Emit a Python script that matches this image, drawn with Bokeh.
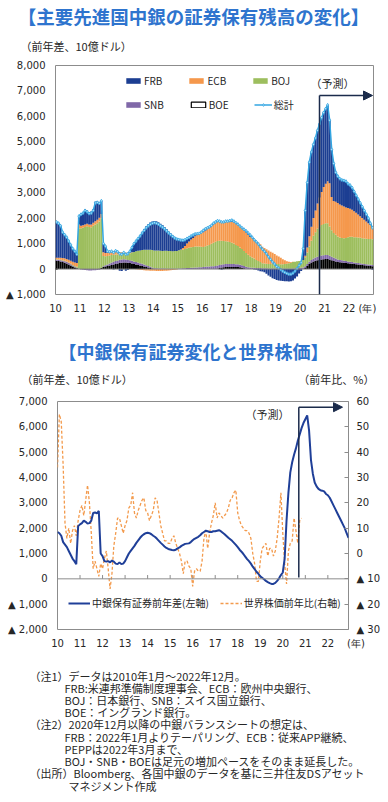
import numpy as np
from bokeh.plotting import figure
from bokeh.layouts import column
from bokeh.models import (Range1d, LinearAxis, FixedTicker, NumeralTickFormatter, Label,
                          Legend, LegendItem, Span, Arrow, NormalHead)
from bokeh.embed import file_html
from bokeh.resources import INLINE

FONT_JP = "Noto Sans CJK JP"
FONT_NUM = "DejaVu Sans"

START_YEAR = 2010
YEARS = list(range(2010, 2023))
YEAR_LABELS = ["10", "11", "12", "13", "14", "15", "16", "17", "18", "19", "20", "21", "22"]
YEAR_UNIT = "(年)"

# 前年差、10億ドル (monthly, 2010-01 .. 2022-12)
FRB = [1410, 1360, 1260, 1020, 930, 850, 730, 620, 510, 440, 340, 330,
       470, 510, 590, 520, 490, 510, 530, 770, 720, 590, 520, 340,
       270, 60, 30, 30, -20, 50, 20, -70, -80, -10, -70, -40,
       60, 190, 330, 410, 500, 600, 710, 810, 920, 1000, 1070, 1120,
       1160, 1150, 1110, 1060, 1020, 930, 850, 770, 690, 620, 540, 490,
       420, 370, 300, 240, 200, 160, 140, 120, 90, 50, 10, 20,
       70, 70, 50, 40, 30, 40, 20, 20, -10, -30, -10, 20,
       20, 40, 70, 40, 20, 0, 0, 0, 30, 60, 70, 80,
       20, -20, -30, -60, -90, -100, -130, -180, -250, -300, -360, -390,
       -430, -450, -460, -470, -480, -480, -490, -480, -450, -370, -290, -170,
       -80, 440, 1780, 2550, 2910, 2940, 2890, 2850, 2870, 2890, 2920, 2930,
       2950, 3000, 2480, 1870, 1480, 1150, 1050, 1010, 1000, 1020, 1030, 950,
       930, 870, 780, 690, 610, 520, 440, 360, 280, 200, 70, -30]
ECB = [50, 60, 70, 80, 90, 100, 110, 120, 130, 140, 150, 150,
       100, 100, 100, 100, 100, 110, 120, 130, 140, 150, 160, 150,
       130, 130, 120, 120, 110, 100, 90, 80, 70, 60, 50, 40,
       20, 10, 0, -10, -20, -30, -40, -50, -60, -60, -70, -70,
       -70, -80, -80, -80, -80, -70, -70, -60, -50, -40, -30, -20,
       0, 20, 60, 120, 180, 240, 300, 350, 400, 450, 500, 550,
       580, 610, 640, 670, 700, 730, 760, 780, 780, 770, 760, 770,
       780, 800, 820, 840, 850, 850, 840, 830, 820, 810, 790, 760,
       780, 760, 740, 720, 690, 650, 610, 570, 530, 480, 430, 380,
       330, 290, 250, 200, 150, 100, 60, 30, 10, 0, 0, 0,
       0, 0, 60, 200, 400, 550, 700, 850, 1000, 1150, 1300, 1450,
       1550, 1650, 1700, 1300, 1250, 1300, 1320, 1300, 1280, 1250, 1200, 1150,
       1100, 1060, 1020, 960, 900, 850, 800, 740, 680, 620, 550, 480]
BOJ = [20, 20, 20, 20, 20, 20, 20, 20, 20, 30, 40, 1580,
       1600, 1620, 1650, 1680, 1650, 1640, 1700, 1750, 1800, 1850, 1950, 400,
       350, 330, 310, 290, 270, 250, 230, 220, 210, 210, 220, 240,
       270, 320, 370, 420, 460, 500, 540, 580, 610, 640, 670, 690,
       700, 700, 710, 700, 690, 700, 710, 700, 700, 690, 700, 700,
       720, 730, 740, 760, 780, 800, 810, 820, 830, 830, 820, 810,
       790, 810, 830, 850, 880, 920, 950, 960, 950, 930, 910, 890,
       880, 860, 830, 800, 760, 720, 680, 640, 590, 540, 490, 440,
       400, 360, 320, 280, 240, 200, 190, 180, 180, 180, 190, 190,
       180, 180, 180, 180, 190, 200, 220, 240, 260, 270, 280, 280,
       280, 300, 350, 450, 600, 750, 900, 1000, 1100, 1150, 1200, 1230,
       1250, 1250, 1150, 1050, 980, 940, 900, 880, 870, 880, 900, 950,
       980, 990, 990, 1000, 1000, 1000, 1000, 1000, 1000, 1000, 1010, 1010]
SNB = [40, 40, 50, 50, 60, 60, 60, 50, 40, 30, 20, 10,
       -20, -30, -40, -50, -60, -60, -50, -50, -40, -30, 0, 30,
       50, 60, 80, 100, 110, 120, 120, 130, 130, 130, 120, 110,
       110, 110, 100, 100, 100, 90, 90, 80, 70, 60, 50, 40,
       30, 30, 20, 20, 20, 20, 10, 10, 10, 10, 10, 10,
       20, 20, 30, 30, 40, 40, 50, 50, 60, 60, 70, 70,
       80, 90, 100, 100, 110, 110, 120, 120, 120, 120, 120, 120,
       120, 120, 120, 120, 110, 110, 100, 100, 90, 80, 70, 60,
       50, 50, 40, 40, 40, 30, 30, 30, 20, 20, 20, 20,
       20, 20, 10, 10, 10, 10, 10, 10, 20, 20, 30, 40,
       50, 60, 70, 80, 90, 100, 110, 120, 130, 140, 150, 150,
       150, 150, 140, 130, 120, 110, 100, 90, 90, 80, 80, 70,
       70, 70, 60, 60, 60, 60, 50, 50, 50, 50, 50, 50]
BOE = [330, 320, 300, 280, 250, 220, 180, 140, 100, 60, 30, 10,
       0, 0, 0, 0, 0, 0, 0, 0, 0, 20, 50, 80,
       100, 120, 140, 160, 180, 200, 220, 240, 250, 260, 260, 250,
       240, 220, 200, 180, 160, 140, 120, 100, 80, 60, 40, 20,
       0, 0, 0, 0, 0, 0, 0, 0, 0, 0, 0, 0,
       0, 0, 0, 0, 0, 0, 0, 0, 0, 0, 0, 0,
       0, 0, 0, 0, 0, 0, 0, 20, 40, 60, 70, 80,
       80, 80, 80, 80, 80, 80, 70, 50, 30, 10, 0, 0,
       0, 0, 0, 0, 0, 0, 0, 0, 0, 0, 0, 0,
       0, 0, 0, 0, 0, 0, 0, 0, 0, 0, 0, 0,
       0, 0, 40, 120, 200, 260, 300, 330, 350, 370, 380, 390,
       400, 400, 380, 350, 320, 300, 280, 270, 260, 250, 240, 230,
       220, 210, 200, 190, 180, 170, 160, 150, 140, 130, 120, 110]
# 世界株価前年比 (%), monthly 2010-01 .. 2020-11
STOCK_YOY = [34, 55, 52, 35, 12, 6, 10, 4, 9, 11, 7, 13,
             17, 19, 15, 21, 27, 20, 8, -6, -3, -6, -9, -4,
             -6, -2, 1, -6, -14, -8, 3, 8, 14, 14, 11, 8,
             11, 13, 18, 19, 24, 16, 14, 17, 19, 21, 22, 17,
             16, 13, 15, 17, 22, 21, 16, 11, 8, 5, 5, 4,
             4, 6, 7, 4, 2, 0, -3, -8, -3, -3, -5, -6,
             -13, -7, -6, -7, -7, -3, 6, 9, 2, 8, 12, 15,
             20, 14, 16, 15, 14, 15, 16, 18, 21, 22, 24, 25,
             16, 13, 11, 10, 9, 9, 8, 6, 0, -4, -11, -11,
             -3, 2, 3, 4, -1, 2, 2, -1, 1, 6, 14, 24,
             8, -4, -12, 1, 4, 5, 14, 9, 4, 13, 14]

BLUE_TITLE = "#2E74CE"
C_FRB, C_ECB, C_BOJ, C_SNB, C_BOE = "#1C3E92", "#F5984C", "#9DBE5E", "#8068A8", "#000000"
C_TOTAL = "#33A6E2"
C_LINE = "#1F3F98"
C_STOCK = "#F39A4C"
C_ARROW = "#1B2B4B"
C_TXT = "#262626"
C_FRAME = "#8C8C8C"

W = 388

n = len(FRB)
months = np.arange(n)
t_bar = START_YEAR + (months + 0.5) / 12
t_pt = START_YEAR + months / 12
total = np.array(FRB, float) + np.array(ECB) + np.array(BOJ) + np.array(SNB) + np.array(BOE)


def blank(h):
    f = figure(width=W, height=h, x_range=Range1d(0, W), y_range=Range1d(0, h),
               output_backend="svg", toolbar_location=None, title=None,
               x_axis_location=None, y_axis_location=None, min_border=0,
               outline_line_color=None, frame_align=False)
    f.grid.visible = False
    return f


def lab(p, x, y, text, size, font=FONT_JP, align="left", color=C_TXT, style="normal"):
    p.add_layout(Label(x=x, y=y, text=text, text_font=font, text_font_size=size,
                       text_align=align, text_baseline="middle", text_color=color,
                       text_font_style=style))


def style_axis(ax):
    ax.axis_line_color = None
    ax.major_tick_line_color = None
    ax.minor_tick_line_color = None
    ax.major_tick_out = 0
    ax.major_tick_in = 0
    ax.minor_tick_out = 0
    ax.minor_tick_in = 0
    ax.major_label_text_font = FONT_NUM
    ax.major_label_text_font_size = "10px"
    ax.major_label_text_color = C_TXT


# ---------------- header 1 (page y 0..58) ----------------
H1_TOP, H1_H = 0, 58
h1 = blank(H1_H)
lab(h1, 193, H1_TOP + H1_H - 15, "【主要先進国中銀の証券保有残高の変化】", "18.5px", align="center",
    color=BLUE_TITLE, style="bold")
lab(h1, 20, H1_TOP + H1_H - 45, "（前年差、10億ドル）", "11px")

# ---------------- figure 1 (page y 58..330) ----------------
P1_TOP, P1_H = 58, 272
F1L, F1R, F1T, F1B = 55, 373, 65, 294
X1 = (2010, 2023)
Y1 = (-1000, 8000)


def f1x(px):
    return X1[0] + (px - F1L) * (X1[1] - X1[0]) / (F1R - F1L)


def f1y(py):
    return Y1[0] + (F1B - py) * (Y1[1] - Y1[0]) / (F1B - F1T)


p1 = figure(width=W, height=P1_H, x_range=Range1d(*X1), y_range=Range1d(*Y1),
            output_backend="svg", toolbar_location=None, title=None, frame_align=False,
            min_border_left=F1L, min_border_right=W - F1R,
            min_border_top=F1T - P1_TOP, min_border_bottom=P1_TOP + P1_H - F1B)
p1.grid.visible = False
p1.outline_line_color = C_FRAME

stack = [("BOE", BOE, C_BOE), ("SNB", SNB, C_SNB), ("BOJ", BOJ, C_BOJ),
         ("ECB", ECB, C_ECB), ("FRB", FRB, C_FRB)]
pos = np.zeros(n)
neg = np.zeros(n)
rend = {}
for name, vals, col in stack:
    v = np.array(vals, float)
    bottom = np.where(v >= 0, pos, neg)
    top = bottom + v
    pos = np.where(v >= 0, top, pos)
    neg = np.where(v < 0, top, neg)
    rend[name] = p1.vbar(x=t_bar, bottom=bottom, top=top, width=1 / 12,
                         fill_color=col, line_color=None)

p1.add_layout(Span(location=0, dimension="width", line_color="#7F7F7F", line_width=1))
tl = p1.line(t_bar, total, line_color=C_TOTAL, line_width=1.5)
ts = p1.scatter(t_bar, total, size=3.2, marker="diamond", fill_color="#BDE6FA",
                line_color=C_TOTAL, line_width=0.8)
# legend swatch for BOE (outlined box, zero-height so nothing shows in the plot)
boe_leg = p1.vbar(x=t_bar[:1], bottom=[0], top=[0], width=1 / 12, fill_color="white",
                  line_color="black", line_width=1.2)

style_axis(p1.xaxis[0])
style_axis(p1.yaxis[0])
x1_ticks = YEARS + [f1x(367)]
p1.xaxis.ticker = FixedTicker(ticks=x1_ticks)
p1.xaxis.major_label_overrides = dict(zip(x1_ticks, YEAR_LABELS + [YEAR_UNIT]))
p1.xaxis.major_label_standoff = 8
p1.yaxis.ticker = FixedTicker(ticks=list(range(-1000, 8001, 1000)))
p1.yaxis.formatter = NumeralTickFormatter(format="0,0")
p1.yaxis.major_label_overrides = {-1000: "▲ 1,000"}
p1.yaxis.major_label_standoff = 10


def mk_legend(items, loc, spacing, gw=18, gh=7, lw=18):
    return Legend(items=items, orientation="horizontal", location=loc, spacing=spacing,
                  glyph_width=gw, glyph_height=gh, label_standoff=2, label_width=lw,
                  label_height=12, padding=0, margin=0, border_line_color=None,
                  background_fill_alpha=0, label_text_font=FONT_JP,
                  label_text_font_size="10px", label_text_color=C_TXT)


leg1 = mk_legend([LegendItem(label="FRB", renderers=[rend["FRB"]]),
                  LegendItem(label="ECB", renderers=[rend["ECB"]]),
                  LegendItem(label="BOJ", renderers=[rend["BOJ"]])], (124 - F1L, F1B - 88), 25)
leg2 = mk_legend([LegendItem(label="SNB", renderers=[rend["SNB"]]),
                  LegendItem(label="BOE", renderers=[boe_leg]),
                  LegendItem(label="総計", renderers=[tl, ts])], (124 - F1L, F1B - 112), 25)
p1.add_layout(leg1, "center")
p1.add_layout(leg2, "center")

FC1_X = f1x(319)
FC1_TOP = f1y(95)
p1.add_layout(Arrow(end=None, x_start=FC1_X, y_start=Y1[0], x_end=FC1_X, y_end=FC1_TOP,
                    line_color=C_ARROW, line_width=1.5))
p1.add_layout(Arrow(end=NormalHead(size=9, fill_color=C_ARROW, line_color=C_ARROW),
                    x_start=FC1_X, y_start=FC1_TOP, x_end=f1x(372), y_end=FC1_TOP,
                    line_color=C_ARROW, line_width=1.5))
lab(p1, f1x(332), f1y(82), "（予測）", "11px", align="center")

# ---------------- header 2 (page y 330..392) ----------------
H2_TOP, H2_H = 330, 62
h2 = blank(H2_H)
lab(h2, 193, H2_TOP + H2_H - 350, "【中銀保有証券変化と世界株価】", "18px", align="center",
    color=BLUE_TITLE, style="bold")
lab(h2, 21, H2_TOP + H2_H - 378, "（前年差、10億ドル）", "11px")
lab(h2, 374, H2_TOP + H2_H - 378, "（前年比、%）", "11px", align="right")

# ---------------- figure 2 (page y 392..662) ----------------
P2_TOP, P2_H = 392, 270
F2L, F2R, F2T, F2B = 57, 348, 401, 629
X2 = (2010, 2010 + (n - 1) / 12)
Y2 = (-2000, 7000)
Y2R = (-30, 60)


def f2x(px):
    return X2[0] + (px - F2L) * (X2[1] - X2[0]) / (F2R - F2L)


def f2y(py):
    return Y2[0] + (F2B - py) * (Y2[1] - Y2[0]) / (F2B - F2T)


p2 = figure(width=W, height=P2_H, x_range=Range1d(*X2), y_range=Range1d(*Y2),
            output_backend="svg", toolbar_location=None, title=None,
            frame_align=False,
            min_border_left=F2L, min_border_right=W - F2R,
            min_border_top=F2T - P2_TOP, min_border_bottom=P2_TOP + P2_H - F2B)
p2.grid.visible = False
p2.outline_line_color = C_FRAME
p2.extra_y_ranges = {"right": Range1d(*Y2R)}
rax = LinearAxis(y_range_name="right")
p2.add_layout(rax, "right")

p2.add_layout(Span(location=0, dimension="width", line_color=C_FRAME, line_width=1))
TICK_LEN = 150
p2.segment(x0=YEARS[1:], y0=[0] * (len(YEARS) - 1), x1=YEARS[1:], y1=[TICK_LEN] * (len(YEARS) - 1),
           line_color=C_FRAME, line_width=1)

t_stock = START_YEAR + np.arange(len(STOCK_YOY)) / 12
sl = p2.line(t_stock, STOCK_YOY, y_range_name="right", line_color=C_STOCK, line_width=1.3,
             line_dash="3 2")
bl = p2.line(t_pt, total, line_color=C_LINE, line_width=2)

style_axis(p2.xaxis[0])
style_axis(p2.yaxis[0])
style_axis(rax)
rax.major_tick_line_color = C_FRAME
rax.major_tick_in = 4
rax.major_tick_out = 0
# the unit label sits at the right end of the axis, nudged right past the frame edge
x2_ticks = YEARS + [X2[1]]
p2.xaxis.ticker = FixedTicker(ticks=x2_ticks)
p2.xaxis.major_label_overrides = dict(zip(x2_ticks, YEAR_LABELS + ["\u2003\u2002" + YEAR_UNIT]))
p2.xaxis.major_label_standoff = 8
p2.yaxis[0].ticker = FixedTicker(ticks=list(range(-2000, 7001, 1000)))
p2.yaxis[0].formatter = NumeralTickFormatter(format="0,0")
p2.yaxis[0].major_label_overrides = {-1000: "▲ 1,000", -2000: "▲ 2,000"}
p2.yaxis[0].major_label_standoff = 10
rax.ticker = FixedTicker(ticks=list(range(-30, 61, 10)))
rax.major_label_overrides = {-10: "▲ 10", -20: "▲ 20", -30: "▲ 30"}
rax.major_label_standoff = 8

leg3 = Legend(items=[LegendItem(label="中銀保有証券前年差(左軸)", renderers=[bl]),
                     LegendItem(label="世界株価前年比(右軸)", renderers=[sl])],
              orientation="horizontal", location=(68 - F2L, F2B - 610), spacing=11,
              glyph_width=22, glyph_height=8, label_standoff=2, label_height=12,
              padding=0, margin=0, border_line_color=None, background_fill_alpha=0,
              label_text_font=FONT_JP, label_text_font_size="10px", label_text_color=C_TXT)
p2.add_layout(leg3, "center")

FC2_X = f2x(298.3)
FC2_TOP = f2y(406.7)
p2.add_layout(Arrow(end=None, x_start=FC2_X, y_start=f2y(577), x_end=FC2_X, y_end=FC2_TOP,
                    line_color=C_ARROW, line_width=1.5))
p2.add_layout(Arrow(end=NormalHead(size=9, fill_color=C_ARROW, line_color=C_ARROW),
                    x_start=FC2_X, y_start=FC2_TOP, x_end=f2x(342), y_end=FC2_TOP,
                    line_color=C_ARROW, line_width=1.5))
lab(p2, f2x(267), f2y(413), "（予測）", "11px", align="center")

# ---------------- notes (page y 662..802) ----------------
N_TOP, N_H = 662, 140
p3 = blank(N_H)
NOTES = [
    (29, 675, "（注1）データは2010年1月～2022年12月。"),
    (64, 687, "FRB:米連邦準備制度理事会、ECB：欧州中央銀行、"),
    (64, 699, "BOJ：日本銀行、SNB：スイス国立銀行、"),
    (64, 711, "BOE：イングランド銀行。"),
    (29, 723, "（注2）2020年12月以降の中銀バランスシートの想定は、"),
    (64, 736, "FRB：2022年1月よりテーパリング、ECB：従来APP継続、"),
    (64, 748, "PEPPは2022年3月まで、"),
    (64, 760, "BOJ・SNB・BOEは足元の増加ペースをそのまま延長した。"),
    (29, 772, "（出所）Bloomberg、各国中銀のデータを基に三井住友DSアセット"),
    (68, 785, "マネジメント作成"),
]
for px, py, txt in NOTES:
    lab(p3, px, N_TOP + N_H - py, txt, "11px")

layout = column(h1, p1, h2, p2, p3, spacing=0)
open("out.html", "w").write(file_html(layout, INLINE))
